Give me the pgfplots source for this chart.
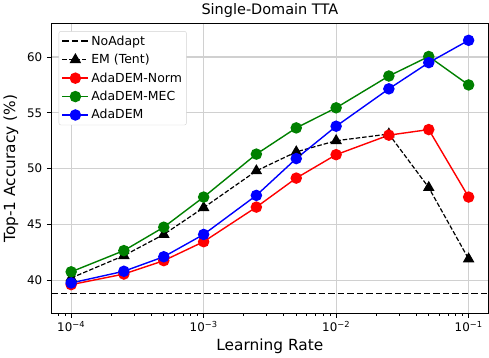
\documentclass[border=0pt]{standalone}
\usepackage{fontspec}
\setmainfont{DejaVu Sans}
\usepackage{pgfplots}
\pgfplotsset{compat=1.18}
\definecolor{mplred}{HTML}{FF0000}
\definecolor{mplgreen}{HTML}{008000}
\definecolor{mplblue}{HTML}{0000FF}
\definecolor{gridgray}{HTML}{D0D0D0}
\begin{document}
\begin{tikzpicture}
\begin{axis}[
    scale only axis,
    width=435pt, height=288pt,
    xmode=log,
    xmin=7.08e-5, xmax=0.141,
    ymin=37.03, ymax=62.97,
    xtick={1e-4,1e-3,1e-2,1e-1},
    xticklabels={10\textsuperscript{−4},10\textsuperscript{−3},10\textsuperscript{−2},10\textsuperscript{−1}},
    minor xtick={8e-5,9e-5,2e-4,3e-4,4e-4,5e-4,6e-4,7e-4,8e-4,9e-4,2e-3,3e-3,4e-3,5e-3,6e-3,7e-3,8e-3,9e-3,2e-2,3e-2,4e-2,5e-2,6e-2,7e-2,8e-2,9e-2},
    ytick={40,45,50,55,60},
    /pgf/number format/assume math mode=true,
    tick align=outside,
    tick pos=left,
    major tick length=4.5pt,
    minor tick length=2.5pt,
    every tick/.style={black, line width=0.8pt},
    axis line style={line width=1pt},
    grid=major,
    major grid style={gridgray, line width=1.2pt},
    tick label style={font=\fontsize{11.8}{13}\selectfont},
    yticklabel style={xshift=-1pt},
    label style={font=\fontsize{15.3}{17}\selectfont},
    title style={font=\fontsize{14.4}{16}\selectfont, yshift=-3pt},
    title={Single-Domain TTA},
    xlabel={Learning Rate},
    ylabel={Top-1 Accuracy (\%)},
    ylabel style={yshift=2pt},
    legend style={at={(0.017,0.975)}, anchor=north west, draw=gray!35,
        rounded corners=2pt, fill=white, font=\fontsize{12.4}{14}\selectfont,
        row sep=3.4pt, inner sep=2.5pt},
    legend cell align=left,
    legend image code/.code={\draw[mark repeat=2,mark phase=2] plot coordinates {(0pt,0pt) (13pt,0pt) (26pt,0pt)};},
]
% NoAdapt baseline
\addplot[black, line width=1.8pt, dash pattern=on 6.5pt off 3pt] coordinates {
    (7.08e-5,38.8) (0.141,38.8)
};
\addlegendentry{NoAdapt}

% EM (Tent)
\addplot[black, line width=1.2pt, dash pattern=on 4.5pt off 2pt, mark=triangle*, mark size=5.5pt, mark options={solid}] coordinates {
    (1e-4,40.2) (2.5e-4,42.2) (5e-4,44.1) (1e-3,46.5) (2.5e-3,49.8)
    (5e-3,51.5) (1e-2,52.5) (2.5e-2,53.1) (5e-2,48.3) (1e-1,41.9)
};
\addlegendentry{EM (Tent)}

% AdaDEM-Norm
\addplot[mplred, line width=1.4pt, mark=*, mark size=5pt] coordinates {
    (1e-4,39.6) (2.5e-4,40.55) (5e-4,41.75) (1e-3,43.45) (2.5e-3,46.55)
    (5e-3,49.15) (1e-2,51.25) (2.5e-2,53.0) (5e-2,53.5) (1e-1,47.45)
};
\addlegendentry{AdaDEM-Norm}

% AdaDEM-MEC
\addplot[mplgreen, line width=1.4pt, mark=*, mark size=5pt] coordinates {
    (1e-4,40.75) (2.5e-4,42.65) (5e-4,44.75) (1e-3,47.45) (2.5e-3,51.3)
    (5e-3,53.65) (1e-2,55.45) (2.5e-2,58.3) (5e-2,60.05) (1e-1,57.5)
};
\addlegendentry{AdaDEM-MEC}

% AdaDEM
\addplot[mplblue, line width=1.4pt, mark=*, mark size=5pt] coordinates {
    (1e-4,39.75) (2.5e-4,40.8) (5e-4,42.1) (1e-3,44.1) (2.5e-3,47.6)
    (5e-3,50.9) (1e-2,53.8) (2.5e-2,57.15) (5e-2,59.5) (1e-1,61.5)
};
\addlegendentry{AdaDEM}
\end{axis}
\end{tikzpicture}
\end{document}
